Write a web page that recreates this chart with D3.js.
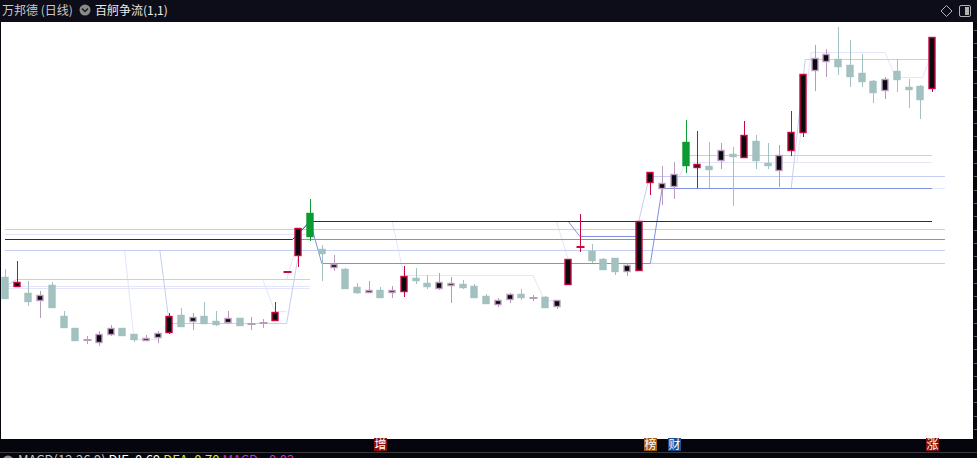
<!DOCTYPE html>
<html>
<head>
<meta charset="utf-8">
<script src="https://cdn.jsdelivr.net/npm/d3@7"></script>
<style>
html, body { margin: 0; padding: 0; background: #05060e; overflow: hidden; }
svg { display: block; }
text { font-family: "Noto Sans CJK SC", "Noto Sans", sans-serif; }
</style>
</head>
<body>
<div id="chart"></div>
<script>
// daily bars
const opens = [11.06,10.88,10.74,10.60,10.90,10.28,10.04,9.80,9.76,9.92,
  10.04,9.92,9.81,9.86,9.96,10.30,10.18,10.28,10.18,10.16,
  10.24,10.12,10.14,10.20,11.16,11.50,12.34,11.62,11.27,11.22,
  10.86,10.76,10.80,10.76,10.78,11.04,10.94,10.84,10.90,10.92,
  10.88,10.68,10.52,10.62,10.72,10.64,10.66,10.48,10.92,11.66,
  11.58,11.42,11.44,11.18,11.20,12.96,12.84,12.88,13.76,13.26,
  13.28,13.40,13.52,13.46,13.78,13.34,13.20,13.60,13.96,15.20,
  15.38,15.42,15.30,15.14,14.98,14.80,15.18,14.86,14.88,14.84];
const closes = [10.64,10.96,10.58,10.70,10.46,10.06,9.80,9.80,9.92,10.04,
  9.90,9.82,9.85,9.94,10.28,10.08,10.26,10.14,10.12,10.24,
  10.10,10.12,10.14,10.36,11.16,12.04,11.88,11.54,11.32,10.84,
  10.76,10.80,10.66,10.80,11.08,11.00,10.88,10.96,10.94,10.86,
  10.66,10.54,10.60,10.72,10.66,10.64,10.46,10.60,11.42,11.66,
  11.40,11.22,11.18,11.30,12.18,13.16,12.94,13.12,13.30,13.32,
  13.22,13.60,13.48,13.90,13.40,13.30,13.50,13.96,15.12,15.44,
  15.52,15.28,15.08,14.98,14.76,15.02,15.02,14.82,14.62,15.86];
const highs = [11.22,11.38,10.98,10.78,10.96,10.38,10.04,9.88,9.98,10.10,
  10.04,9.92,9.90,9.98,10.34,10.44,10.34,10.56,10.38,10.38,
  10.24,10.26,10.22,10.56,11.16,12.04,12.62,11.70,11.50,11.24,
  10.94,10.98,10.86,10.88,11.28,11.24,11.10,11.14,11.06,11.00,
  10.92,10.72,10.64,10.74,10.82,10.70,10.68,10.60,11.42,12.32,
  11.72,11.44,11.44,11.34,12.18,13.16,13.28,13.36,14.20,13.98,
  13.76,13.74,13.66,14.18,13.90,13.74,13.70,14.38,15.12,15.70,
  15.62,16.06,15.80,15.52,15.00,15.06,15.42,15.02,14.90,15.86];
const lows = [10.64,10.88,10.48,10.24,10.44,10.04,9.80,9.72,9.68,9.88,
  9.88,9.76,9.78,9.74,9.92,10.06,10.00,10.14,10.08,10.12,
  10.10,10.00,10.04,10.20,11.16,11.26,11.78,10.98,11.18,10.84,
  10.72,10.76,10.66,10.64,10.66,10.92,10.82,10.80,10.54,10.82,
  10.66,10.54,10.46,10.54,10.60,10.58,10.46,10.42,10.92,11.56,
  11.34,11.22,11.10,11.08,11.18,12.70,12.50,12.62,13.14,12.84,
  12.84,13.22,12.48,13.46,13.22,13.22,12.86,13.48,13.86,14.78,
  15.06,15.10,14.86,14.86,14.54,14.62,14.76,14.44,14.22,14.76];

// signal days of the indicator
const strongUp = [1,14,23,24,25,34,48,49,54,55,59,63,67,68,79];
const strongDown = [26,58];

// event markers under the bars
const markerIdx = [32,55,57,79];
const markerText = ["增","榜","财","涨"];

// 百舸争流 level lines: [bar index, price]
const levelLines = [
  {tier:"faint", pts:[[0,11.92],[26,11.92]]},
  {tier:"faint", pts:[[0,10.88],[26,10.88]]},
  {tier:"faint", pts:[[0,10.84],[26,10.84]]},
  {tier:"faint", pts:[[24,11.02],[25,11.82]]},
  {tier:"faint", pts:[[10.2,11.60],[11,9.82],[13,9.82]]},
  {tier:"faint", pts:[[22,11.00],[23,10.38],[24,10.38]]},
  {tier:"faint", pts:[[26,12.18],[33,12.18],[34,11.10],[45,11.10],[46,10.60],[47,10.60]]},
  {tier:"faint", pts:[[47,12.18],[48,11.42]]},
  {tier:"faint", pts:[[57,12.84],[58,13.36]]},
  {tier:"faint", pts:[[58,13.36],[79,13.36]]},
  {tier:"faint", pts:[[67.5,13.36],[68.7,15.56],[75,15.56],[75.9,15.06],[78.2,15.06],[79,15.56]]},
  {tier:"faint", pts:[[79,12.84],[80.1,12.84]]},
  {tier:"light", pts:[[0,12.02],[80.1,12.02]]},
  {tier:"light", pts:[[0,11.60],[80.1,11.60]]},
  {tier:"light", pts:[[0,10.88],[1,11.02],[26,11.02]]},
  {tier:"light", pts:[[13.2,11.60],[14,10.14],[24,10.14],[25,11.50]]},
  {tier:"light", pts:[[55,11.34],[80.1,11.34]]},
  {tier:"light", pts:[[54,12.18],[55,13.16]]},
  {tier:"light", pts:[[55,13.08],[80.1,13.08]]},
  {tier:"light", pts:[[58,13.50],[79,13.50]]},
  {tier:"light", pts:[[67,12.84],[68.2,15.42],[79,15.42]]},
  {tier:"mid", pts:[[25,11.82],[80.1,11.82]]},
  {tier:"mid", pts:[[26,12.18],[27,11.34],[55,11.34],[56,12.84],[79,12.84]]},
  {tier:"mid", pts:[[48,12.18],[49,11.88],[54,11.88]]},
  {tier:"navy", pts:[[0,11.82],[24.5,11.82],[26,12.18],[79,12.18]]}
];

const W = 977, H = 458;
const plotTop = 22, plotBottom = 439, plotRight = 973;
const tierColor = {faint:"#e3e6f8", light:"#c6cef2", mid:"#7f90e0", navy:"#0c2c9c"};
const teal = "#a2c1c0", mauve = "#bb9bbd", red = "#c8083c", green = "#0c9a32", ink = "#0a0a12";
const markerColor = {"增":"#8c0d0d","榜":"#a45a10","财":"#1a4f8f","涨":"#7a1010"};

const x = d3.scaleLinear().domain([0, 79]).range([5, 932]);
const y = d3.scaleLinear().domain([8, 16.1]).range([430, 25]);

const svg = d3.select("#chart").append("svg")
  .attr("width", W).attr("height", H);

svg.append("rect").attr("width", W).attr("height", H).attr("fill", "#05060e");
// header
svg.append("rect").attr("width", W).attr("height", plotTop).attr("fill", "#0c0d18");
svg.append("text").attr("x", 2).attr("y", 15).attr("font-size", 12)
  .attr("fill", "#c8c8c8").text("万邦德 (日线)");
svg.append("circle").attr("cx", 85).attr("cy", 10).attr("r", 5.5).attr("fill", "#8a8a8a");
svg.append("path").attr("d", "M82,8.5 L85,11.5 L88,8.5").attr("fill", "none")
  .attr("stroke", "#1a1a1a").attr("stroke-width", 1.5);
svg.append("text").attr("x", 95).attr("y", 15).attr("font-size", 12)
  .attr("fill", "#e8e8e8").text("百舸争流(1,1)");
svg.append("path").attr("d", "M946.5,5.5 L952,11 L946.5,16.5 L941,11 Z")
  .attr("fill", "none").attr("stroke", "#b0b0b0");
svg.append("rect").attr("x", 959.5).attr("y", 5.5).attr("width", 11).attr("height", 11).attr("rx", 1.5)
  .attr("fill", "none").attr("stroke", "#b0b0b0");
svg.append("rect").attr("x", 965).attr("y", 7).attr("width", 4).attr("height", 8).attr("fill", "#b0b0b0");

// plot area
svg.append("rect").attr("x", 1).attr("y", plotTop)
  .attr("width", plotRight - 1).attr("height", plotBottom - plotTop).attr("fill", "#ffffff");

// right axis tick marks
svg.selectAll("line.rtick").data(d3.range(30, plotBottom, 13.3)).join("line")
  .attr("class", "rtick")
  .attr("x1", 974).attr("x2", 977).attr("y1", d => Math.round(d) + 0.5).attr("y2", d => Math.round(d) + 0.5)
  .attr("stroke", "#666");

const g = svg.append("g");

// level lines, light tiers first
const line = d3.line().x(d => x(d[0])).y(d => Math.round(y(d[1])) + 0.5);
const order = ["faint", "light", "mid", "navy"];
g.selectAll("path.level")
  .data(levelLines.slice().sort((a, b) => order.indexOf(a.tier) - order.indexOf(b.tier)))
  .join("path")
  .attr("class", "level")
  .attr("d", d => line(d.pts))
  .attr("fill", "none")
  .attr("stroke", d => tierColor[d.tier])
  .attr("stroke-width", 1);

// bars
const bars = d3.range(opens.length).map(i => {
  let kind;
  if (strongDown.includes(i)) kind = "green";
  else if (strongUp.includes(i)) kind = "red";
  else if (closes[i] >= opens[i]) kind = "mauve";
  else kind = "teal";
  return {i, o: opens[i], c: closes[i], h: highs[i], l: lows[i], kind};
});
const edge = {green: green, red: red, mauve: mauve, teal: teal};
const fillOf = {green: green, red: ink, mauve: ink, teal: teal};
const bw = 7;

const bar = g.selectAll("g.bar").data(bars).join("g").attr("class", "bar");

bar.append("line")
  .attr("x1", d => Math.round(x(d.i)) + 0.5).attr("x2", d => Math.round(x(d.i)) + 0.5)
  .attr("y1", d => y(d.h)).attr("y2", d => y(d.l))
  .attr("stroke", d => edge[d.kind]).attr("stroke-width", 1);

bar.filter(d => d.o !== d.c).append("rect")
  .attr("x", d => Math.round(x(d.i)) - 3)
  .attr("y", d => Math.round(y(Math.max(d.o, d.c))) + 0.5)
  .attr("width", bw - 1)
  .attr("height", d => Math.max(1, Math.round(Math.abs(y(d.o) - y(d.c)))))
  .attr("fill", d => fillOf[d.kind])
  .attr("stroke", d => edge[d.kind])
  .attr("stroke-width", 1.4);

bar.filter(d => d.o === d.c).append("rect")
  .attr("x", d => Math.round(x(d.i)) - 3.5)
  .attr("y", d => Math.round(y(d.c)) - 1)
  .attr("width", bw + 1)
  .attr("height", 2)
  .attr("fill", d => edge[d.kind]);

// bottom band with markers
svg.append("rect").attr("x", 0).attr("y", plotBottom).attr("width", W).attr("height", 13).attr("fill", "#04050d");
svg.append("line").attr("x1", 0).attr("x2", W).attr("y1", 452.5).attr("y2", 452.5).attr("stroke", "#3a3a3a");

const mk = svg.selectAll("g.mk").data(markerIdx.map((d, k) => ({i: d, t: markerText[k]}))).join("g").attr("class", "mk");
mk.append("rect")
  .attr("x", d => Math.round(x(d.i)) - 6).attr("y", 438)
  .attr("width", 13).attr("height", 13)
  .attr("fill", d => markerColor[d.t]);
mk.append("text")
  .attr("x", d => Math.round(x(d.i)) + 0.5).attr("y", 449)
  .attr("text-anchor", "middle").attr("font-size", 12).attr("fill", "#ffffff")
  .text(d => d.t);

// MACD caption (cut off by the window)
svg.append("circle").attr("cx", 8).attr("cy", 461).attr("r", 5.5).attr("fill", "#8a8a8a");
const cap = svg.append("text").attr("x", 18).attr("y", 465).attr("font-size", 13);
cap.append("tspan").attr("fill", "#c8c8c8").text("MACD(12,26,9) ");
cap.append("tspan").attr("fill", "#ffffff").text("DIF: 0.69 ");
cap.append("tspan").attr("fill", "#e8e800").text("DEA: 0.70 ");
cap.append("tspan").attr("fill", "#e020e0").text("MACD: -0.02");
</script>
</body>
</html>
